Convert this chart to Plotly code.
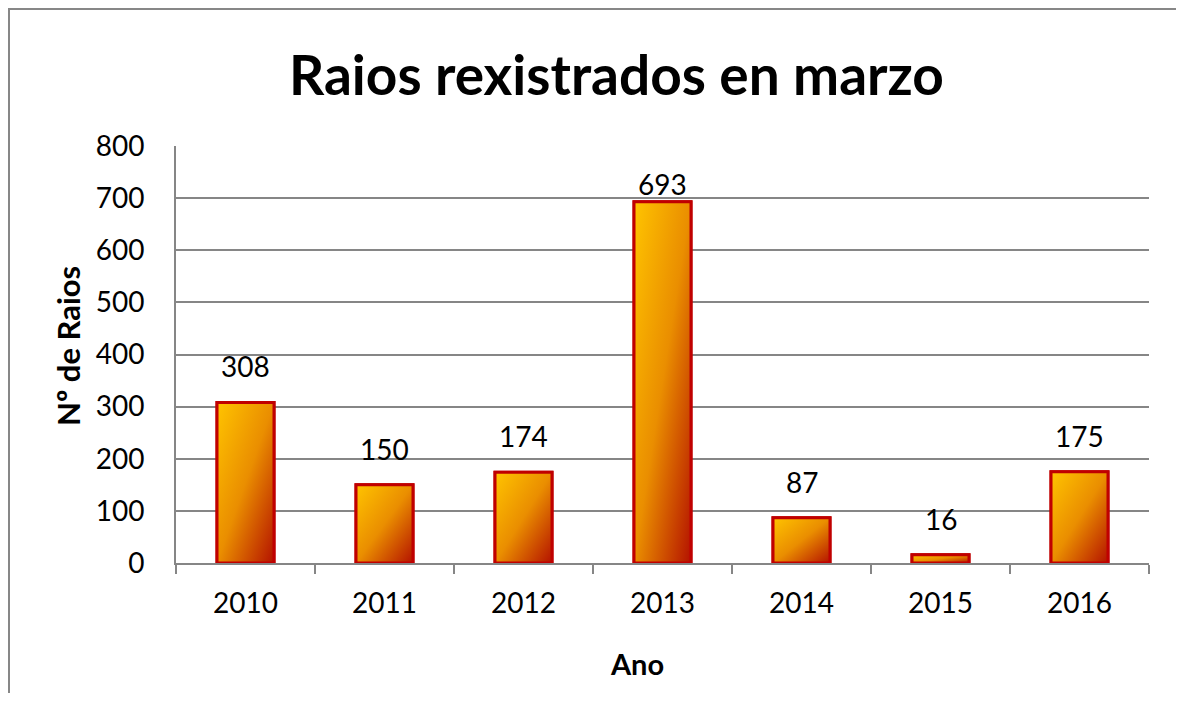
import base64
import plotly.graph_objects as go

years = ["2010", "2011", "2012", "2013", "2014", "2015", "2016"]
raios = [308, 150, 174, 693, 87, 16, 175]
y_ticks = [0, 100, 200, 300, 400, 500, 600, 700, 800]

title_text = "Raios rexistrados en marzo"
x_title = "Ano"
y_title = "Nº de Raios"

FONT = "Lato"
BAR_W = 0.41
Y_MAX = 800

svg = (
    '<svg xmlns="http://www.w3.org/2000/svg" width="100" height="100" viewBox="0 0 100 100" '
    'preserveAspectRatio="none"><defs><linearGradient id="g" x1="0" y1="0" x2="1" y2="1">'
    '<stop offset="0" stop-color="#FFC400"/><stop offset="0.5" stop-color="#EA8E00"/>'
    '<stop offset="1" stop-color="#B41200"/></linearGradient></defs>'
    '<rect x="0" y="0" width="100" height="100" fill="url(#g)"/></svg>'
)
grad_uri = "data:image/svg+xml;base64," + base64.b64encode(svg.encode()).decode()

# figure sits inside the page's 8px body margin (height kept small to avoid scrollbars)
W, H = 1176, 685
L, R, T, B = 168, 35, 138, 130
pw, ph = W - L - R, H - T - B


def px_x(p):
    return (p - L) / pw


def px_y(p):
    return (H - B - p) / ph


fig = go.Figure()
fig.add_trace(go.Bar(
    x=years, y=raios, width=BAR_W,
    marker=dict(color="#EA8E00", line=dict(color="#C00000", width=3)),
    hoverinfo="x+y", showlegend=False,
))

images = []
shapes = []
annotations = []
for i, v in enumerate(raios):
    images.append(dict(
        source=grad_uri, xref="x", yref="y", x=i, y=v,
        sizex=BAR_W, sizey=v, xanchor="center", yanchor="top",
        sizing="stretch", layer="above",
    ))
    shapes.append(dict(
        type="rect", xref="x", yref="y", x0=i - BAR_W / 2, x1=i + BAR_W / 2,
        y0=0, y1=v, line=dict(color="#C00000", width=3), layer="above",
    ))
    annotations.append(dict(
        x=i, y=v, xref="x", yref="y", text=str(v), showarrow=False,
        yanchor="bottom", yshift=17 if v < 0.85 * Y_MAX else -1,
        font=dict(family=FONT, size=28, color="black"),
    ))

# outer chart border (only left and top edges fall inside the picture)
shapes.append(dict(
    type="line", xref="paper", yref="paper",
    x0=px_x(0.5), x1=px_x(0.5), y0=px_y(H), y1=px_y(0),
    line=dict(color="#878787", width=3), layer="below",
))
shapes.append(dict(
    type="line", xref="paper", yref="paper",
    x0=px_x(0), x1=px_x(W), y0=px_y(0.5), y1=px_y(0.5),
    line=dict(color="#878787", width=3), layer="below",
))

annotations.append(dict(
    text=f"<b>{title_text}</b>", xref="paper", yref="paper",
    x=px_x(608), y=px_y(66), showarrow=False,
    xanchor="center", yanchor="middle",
    font=dict(family=FONT, size=55, color="black"),
))
annotations.append(dict(
    text=f"<b>{x_title}</b>", xref="paper", yref="paper",
    x=px_x(629), y=px_y(655), showarrow=False,
    xanchor="center", yanchor="middle",
    font=dict(family=FONT, size=29, color="black"),
))
annotations.append(dict(
    text=f"<b>{y_title}</b>", xref="paper", yref="paper",
    x=px_x(60), y=px_y(338), showarrow=False, textangle=-90,
    xanchor="center", yanchor="middle",
    font=dict(family=FONT, size=31, color="black"),
))

fig.update_layout(
    width=W, height=H,
    margin=dict(l=L, r=R, t=T, b=B),
    paper_bgcolor="white", plot_bgcolor="white",
    bargap=1 - BAR_W,
    images=images, shapes=shapes, annotations=annotations,
    xaxis=dict(
        type="category", categoryorder="array", categoryarray=years,
        range=[-0.5, len(years) - 0.5],
        showline=True, linecolor="#868686", linewidth=2,
        ticks="outside", tickson="boundaries", ticklen=9, tickwidth=2, tickcolor="#868686",
        ticklabelstandoff=14,
        tickfont=dict(family=FONT, size=28, color="black"),
        showgrid=False, zeroline=False,
    ),
    yaxis=dict(
        range=[0, Y_MAX], tickvals=y_ticks,
        showline=True, linecolor="#868686", linewidth=2,
        showgrid=True, gridcolor="#868686", gridwidth=2,
        ticks="", ticklabelstandoff=24,
        tickfont=dict(family=FONT, size=28, color="black"),
        zeroline=False,
    ),
)

fig.write_html("out.html")
